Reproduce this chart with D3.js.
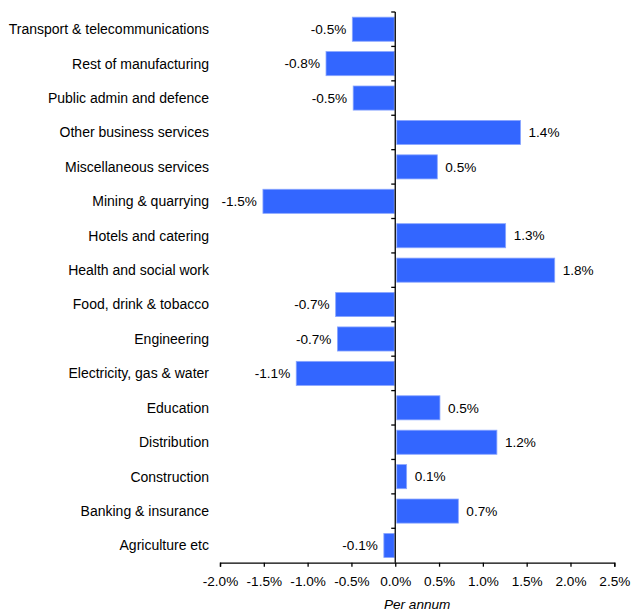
<!DOCTYPE html>
<html><head><meta charset="utf-8">
<script src="https://cdn.jsdelivr.net/npm/d3@7"></script>
<style>body{margin:0;background:#fff}svg{display:block}text{font-family:"Liberation Sans",Arial,sans-serif}</style>
</head><body>
<script>
const categories = ["Transport & telecommunications","Rest of manufacturing","Public admin and defence","Other business services","Miscellaneous services","Mining & quarrying","Hotels and catering","Health and social work","Food, drink & tobacco","Engineering","Electricity, gas & water","Education","Distribution","Construction","Banking & insurance","Agriculture etc"];
const values = [-0.49, -0.79, -0.48, 1.43, 0.48, -1.51, 1.26, 1.82, -0.68, -0.66, -1.13, 0.51, 1.16, 0.13, 0.72, -0.13];
const xTicks = [-2.0, -1.5, -1.0, -0.5, 0.0, 0.5, 1.0, 1.5, 2.0, 2.5];
const xTitle = "Per annum";

const W = 631, H = 612;
const svg = d3.select("body").append("svg").attr("width", W).attr("height", H);
const x = d3.scaleLinear().domain([-2.0, 2.5]).range([220, 614.3]);
const y = d3.scaleBand().domain(categories).range([12, 562.7]).paddingInner(0.3).paddingOuter(0.15);
const fmt = v => d3.format(".1f")(v).replace("\u2212", "-") + "%";
const FS = 13.6;

// bars
svg.append("g").selectAll("rect").data(values).join("rect")
  .attr("x", (d) => d < 0 ? x(d) : x(0) + 1.5)
  .attr("width", (d) => d < 0 ? x(0) - 1 - x(d) : x(d) - x(0) - 1.5)
  .attr("y", (d, i) => y(categories[i]))
  .attr("height", y.bandwidth())
  .attr("fill", "#3366ff").attr("stroke", "#8aa6ff").attr("stroke-width", 0.8);

// value labels
svg.append("g").selectAll("text").data(values).join("text")
  .attr("x", d => d < 0 ? x(d) - 6 : x(d) + 8)
  .attr("y", (d, i) => y(categories[i]) + y.bandwidth() / 2)
  .attr("dy", "0.35em")
  .attr("text-anchor", d => d < 0 ? "end" : "start")
  .attr("font-size", FS).attr("fill", "#000")
  .text(fmt);

// category labels
svg.append("g").selectAll("text").data(categories).join("text")
  .attr("x", 209)
  .attr("y", d => y(d) + y.bandwidth() / 2)
  .attr("dy", "0.35em").attr("text-anchor", "end")
  .attr("font-size", 14).attr("fill", "#000")
  .text(d => d);

// y axis line with ticks at category boundaries
const yAx = svg.append("g").attr("stroke", "#000").attr("stroke-width", 1.3);
yAx.append("line").attr("x1", x(0)).attr("x2", x(0)).attr("y1", 12).attr("y2", 562.7);
categories.forEach((c, i) => {
  const yy = 12 + i * (562.7 - 12) / categories.length;
  yAx.append("line").attr("x1", x(0) - 4).attr("x2", x(0)).attr("y1", yy).attr("y2", yy);
});

// x axis
const xAxis = d3.axisBottom(x).tickValues(xTicks).tickSize(4).tickFormat(fmt);
const gx = svg.append("g").attr("transform", "translate(0,562.7)").call(xAxis);
gx.select(".domain").attr("stroke", "#000").attr("stroke-width", 1.3);
gx.selectAll(".tick line").attr("stroke", "#000").attr("stroke-width", 1.3);
gx.selectAll(".tick text").attr("font-size", FS).attr("fill", "#000").attr("y", 14)
  .attr("font-family", "'Liberation Sans',Arial,sans-serif");

svg.append("text").attr("x", (x(-2) + x(2.5)) / 2).attr("y", 609)
  .attr("text-anchor", "middle").attr("font-size", FS).attr("font-style", "italic").attr("fill", "#000")
  .text(xTitle);
</script>
</body></html>
